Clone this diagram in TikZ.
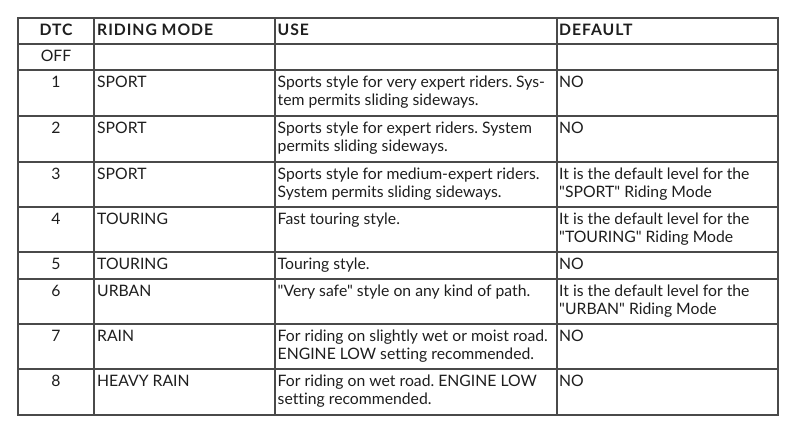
\documentclass[tikz,border=0pt]{standalone}
\usepackage{fontspec}
\newfontfamily\bodyfont{Lato}[Ligatures=NoCommon]
\newfontfamily\headfont{Lato}[Ligatures=NoCommon,LetterSpace=6]
\frenchspacing
\definecolor{linec}{HTML}{4A4A4A}
\definecolor{txtc}{HTML}{1E1E1E}
\newcommand\twol[2]{\vtop{\hbox{#1}\hbox{#2}}}
\tikzset{
  gridline/.style={draw=linec, line width=1.3bp},
  txt/.style={inner sep=0pt, anchor=base west, text=txtc, font=\bodyfont\fontsize{15.8}{17.7}\selectfont\frenchspacing},
  num/.style={txt, anchor=base},
  hdr/.style={txt, font=\headfont\fontsize{15.8}{17.7}\selectfont\bfseries},
  hdrc/.style={hdr, anchor=base}
}
\begin{document}
\begin{tikzpicture}[x=1bp,y=-1bp]
\useasboundingbox (0,0) rectangle (797,433);
% grid
\draw[gridline] (18,18) rectangle (778,415);
\foreach \yy in {44,70,116,162,207,252,279,324,369}
  \draw[gridline] (18,\yy) -- (778,\yy);
\foreach \xx in {94,275,557}
  \draw[gridline] (\xx,18) -- (\xx,415);
% header
\node[hdrc] (h1) at (56,36) {DTC};
\node[hdr] (h2) at (97,36) {RIDING MODE};
\node[hdr] (h3) at (277.5,36) {USE};
\node[hdr] (h4) at (559,36) {DEFAULT};
% DTC column
\node[num] (d0) at (56,62) {OFF};
\node[num] (d1) at (56,88) {1};
\node[num] (d2) at (56,134) {2};
\node[num] (d3) at (56,179.5) {3};
\node[num] (d4) at (56,225) {4};
\node[num] (d5) at (56,270) {5};
\node[num] (d6) at (56,297) {6};
\node[num] (d7) at (56,342) {7};
\node[num] (d8) at (56,387) {8};
% riding mode
\node[txt] (m1) at (97,88) {SPORT};
\node[txt] (m2) at (97,134) {SPORT};
\node[txt] (m3) at (97,179.5) {SPORT};
\node[txt] (m4) at (97,225) {TOURING};
\node[txt] (m5) at (97,270) {TOURING};
\node[txt] (m6) at (97,297) {URBAN};
\node[txt] (m7) at (97,342) {RAIN};
\node[txt] (m8) at (97,387) {HEAVY RAIN};
% use
\node[txt] (u1) at (277.5,88) {\twol{Sports style for very expert riders. Sys-}{tem permits sliding sideways.}};
\node[txt] (u2) at (277.5,134) {\twol{Sports style for expert riders. System}{permits sliding sideways.}};
\node[txt] (u3) at (277.5,179.5) {\twol{Sports style for medium-expert riders.}{System permits sliding sideways.}};
\node[txt] (u4) at (277.5,225) {Fast touring style.};
\node[txt] (u5) at (277.5,270) {Touring style.};
\node[txt] (u6) at (277.5,297) {"Very safe" style on any kind of path.};
\node[txt] (u7) at (277.5,342) {\twol{For riding on slightly wet or moist road.}{ENGINE LOW setting recommended.}};
\node[txt] (u8) at (277.5,387) {\twol{For riding on wet road. ENGINE LOW}{setting recommended.}};
% default
\node[txt] (f1) at (559,88) {NO};
\node[txt] (f2) at (559,134) {NO};
\node[txt] (f3) at (559,179.5) {\twol{It is the default level for the}{"SPORT" Riding Mode}};
\node[txt] (f4) at (559,225) {\twol{It is the default level for the}{"TOURING" Riding Mode}};
\node[txt] (f5) at (559,270) {NO};
\node[txt] (f6) at (559,297) {\twol{It is the default level for the}{"URBAN" Riding Mode}};
\node[txt] (f7) at (559,342) {NO};
\node[txt] (f8) at (559,387) {NO};
\end{tikzpicture}
\end{document}
